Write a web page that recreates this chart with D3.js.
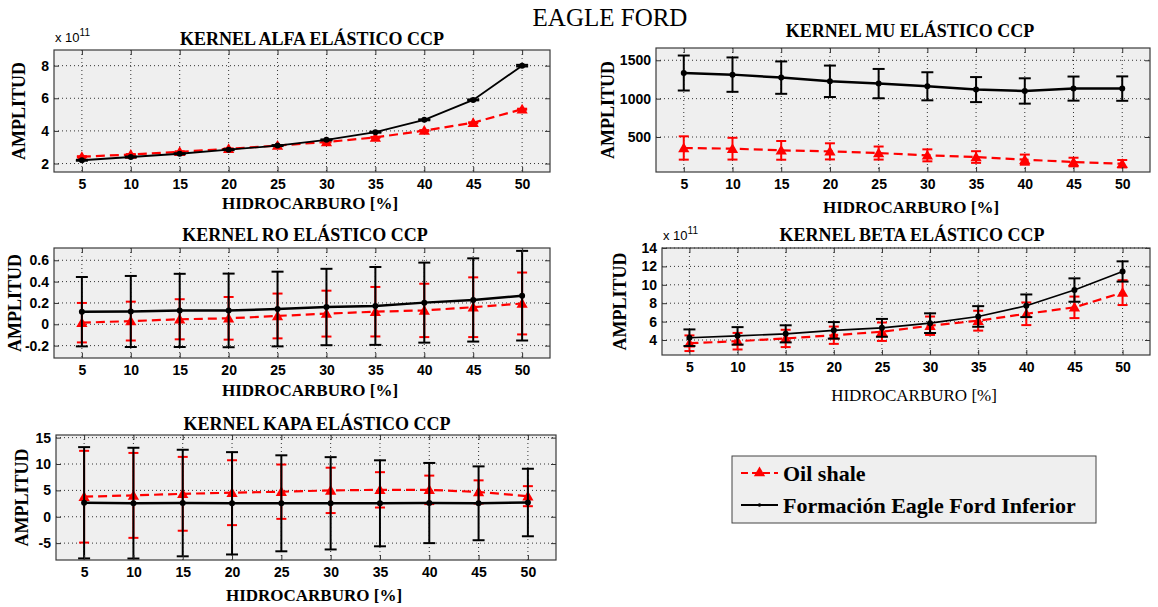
<!DOCTYPE html>
<html><head><meta charset="utf-8">
<script src="https://cdn.jsdelivr.net/npm/d3@7"></script>
<style>
html,body{margin:0;padding:0;background:#fff;}
svg{display:block;}
</style></head>
<body>
<svg id="c" width="1158" height="607"></svg>
<script>
// ---------------- data ----------------
const hidro = [5,10,15,20,25,30,35,40,45,50];
const seriesNames = ["Oil shale","Formación Eagle Ford Inferior"];

const alfaOil    = [2.42,2.55,2.72,2.9,3.1,3.32,3.6,4.02,4.5,5.33];
const alfaOilErr = [0.03,0.03,0.03,0.03,0.03,0.03,0.03,0.03,0.03,0.03];
const alfaEF     = [2.2,2.4,2.6,2.85,3.1,3.45,3.92,4.68,5.9,8.0];
const alfaEFErr  = [0.03,0.03,0.03,0.03,0.03,0.03,0.03,0.03,0.03,0.05];

const muOil    = [357,348,326,313,291,261,239,205,174,152];
const muOilErr = [152,142,122,105,85,78,76,66,56,48];
const muEF     = [1334,1313,1274,1226,1196,1161,1118,1100,1131,1131];
const muEFErr  = [228,224,211,205,191,183,163,165,157,159];

const roOil    = [0.015,0.03,0.047,0.056,0.078,0.1,0.118,0.13,0.16,0.195];
const roOilErr = [0.185,0.182,0.188,0.2,0.21,0.215,0.232,0.25,0.28,0.29];
const roEF     = [0.118,0.12,0.13,0.13,0.143,0.162,0.172,0.203,0.228,0.268];
const roEFErr  = [0.325,0.333,0.343,0.345,0.35,0.358,0.365,0.375,0.39,0.42];

const betaOil    = [3.65,3.87,4.17,4.52,4.9,5.55,6.1,6.85,7.55,9.15];
const betaOilErr = [0.85,0.9,0.94,0.94,1.0,1.0,1.08,1.23,1.17,1.35];
const betaEF     = [4.25,4.45,4.67,5.05,5.32,5.83,6.56,7.72,9.43,11.45];
const betaEFErr  = [0.9,0.95,0.93,0.9,0.97,1.07,1.12,1.23,1.27,1.1];

const kapaOil    = [3.8,4.05,4.35,4.56,4.75,5.0,5.1,5.1,4.7,3.9];
const kapaOilErr = [8.7,8.05,7.0,6.15,5.15,4.3,3.35,2.7,2.2,1.9];
const kapaEF     = [2.65,2.58,2.6,2.55,2.55,2.55,2.55,2.6,2.55,2.7];
const kapaEFErr  = [10.55,10.5,10.1,9.7,9.1,8.75,8.15,7.6,7.0,6.4];

const alfaTicks = [2,4,6,8];
const muTicks   = [500,1000,1500];
const roTicks   = [-0.2,0,0.2,0.4,0.6];
const betaTicks = [4,6,8,10,12,14];
const kapaTicks = [-5,0,5,10,15];

const titles = ["KERNEL ALFA ELÁSTICO CCP","KERNEL MU ELÁSTICO CCP","KERNEL RO ELÁSTICO CCP","KERNEL BETA ELÁSTICO CCP","KERNEL KAPA ELÁSTICO CCP"];
const xLabel = "HIDROCARBURO [%]";
const yLabel = "AMPLITUD";
const mainTitle = "EAGLE FORD";

// ---------------- layout ----------------
const SERIF = "'Liberation Serif','Times New Roman',serif";
const SANS  = "'Liberation Sans',Arial,Helvetica,sans-serif";
const svg = d3.select("#c");

const panels = [
  {title:titles[0], oil:alfaOil, oilErr:alfaOilErr, ef:alfaEF, efErr:alfaEFErr, yTicks:alfaTicks, yDom:[1.48,8.96],
   box:[54,550,50,172], titleX:312, titleY:45, xlY:209, ylX:19, exp:true, efW:1.8, xlBold:true},
  {title:titles[1], oil:muOil, oilErr:muOilErr, ef:muEF, efErr:muEFErr, yTicks:muTicks, yDom:[44,1660],
   box:[656,1150,48,172], titleX:910, titleY:37, xlY:213, ylX:608, exp:false, efW:2.5, xlBold:true},
  {title:titles[2], oil:roOil, oilErr:roOilErr, ef:roEF, efErr:roEFErr, yTicks:roTicks, yDom:[-0.316,0.715],
   box:[54,550,248,358], titleX:305, titleY:241, xlY:396, ylX:15, exp:false, efW:2.5, xlBold:true},
  {title:titles[3], oil:betaOil, oilErr:betaOilErr, ef:betaEF, efErr:betaEFErr, yTicks:betaTicks, yDom:[2.37,14],
   box:[662,1150,248,355], titleX:912, titleY:241, xlY:401, ylX:620, exp:true, efW:1.6, xlBold:false},
  {title:titles[4], oil:kapaOil, oilErr:kapaOilErr, ef:kapaEF, efErr:kapaEFErr, yTicks:kapaTicks, yDom:[-8.2,15.5],
   box:[56,556,435,560], titleX:317, titleY:430, xlY:601, ylX:22, exp:false, efW:2.5, xlBold:true}
];

const xDom = [2.15, 52.85];
const defs = svg.append("defs");
const tri = d3.symbol().type(d3.symbolTriangle).size(55);
const plain = d => String(d);

panels.forEach((p, i) => {
  const [L, R, T, B] = p.box;
  const x = d3.scaleLinear().domain(xDom).range([L, R]);
  const y = d3.scaleLinear().domain(p.yDom).range([B, T]);
  const g = svg.append("g");

  g.append("rect").attr("x", L).attr("y", T).attr("width", R - L).attr("height", B - T).attr("fill", "#efefef");

  // grid
  g.selectAll(".gx").data(hidro).join("line")
    .attr("x1", d => x(d)).attr("x2", d => x(d)).attr("y1", T).attr("y2", B)
    .attr("stroke", "#333").attr("stroke-width", 1).attr("stroke-dasharray", "1,3");
  g.selectAll(".gy").data(p.yTicks).join("line")
    .attr("x1", L).attr("x2", R).attr("y1", d => y(d)).attr("y2", d => y(d))
    .attr("stroke", "#333").attr("stroke-width", 1).attr("stroke-dasharray", "1,3");

  const cid = "clip" + i;
  defs.append("clipPath").attr("id", cid).append("rect")
    .attr("x", L).attr("y", T).attr("width", R - L).attr("height", B - T);
  const dg = g.append("g").attr("clip-path", `url(#${cid})`);

  const line = d3.line().x((d, j) => x(hidro[j])).y(d => y(d));

  function drawSeries(vals, errs, color, lw, capW, dashed, marker) {
    const s = dg.append("g");
    vals.forEach((v, j) => {
      const xx = x(hidro[j]), y1 = y(v + errs[j]), y2 = y(v - errs[j]);
      s.append("line").attr("x1", xx).attr("x2", xx).attr("y1", y1).attr("y2", y2)
        .attr("stroke", color).attr("stroke-width", 2);
      [y1, y2].forEach(yy => s.append("line").attr("x1", xx - capW / 2).attr("x2", xx + capW / 2)
        .attr("y1", yy).attr("y2", yy).attr("stroke", color).attr("stroke-width", 2));
    });
    s.append("path").datum(vals).attr("d", line).attr("fill", "none")
      .attr("stroke", color).attr("stroke-width", lw)
      .attr("stroke-dasharray", dashed ? "9,5" : null);
    if (marker === "tri") {
      s.selectAll(".m").data(vals).join("path")
        .attr("transform", (d, j) => `translate(${x(hidro[j])},${y(d) + 1})`)
        .attr("d", tri).attr("fill", color);
    } else {
      s.selectAll(".m").data(vals).join("circle")
        .attr("cx", (d, j) => x(hidro[j])).attr("cy", d => y(d)).attr("r", 3).attr("fill", color);
    }
  }
  drawSeries(p.oil, p.oilErr, "#ff0000", 2.2, 10, true, "tri");
  drawSeries(p.ef, p.efErr, "#000000", p.efW, 12, false, "dot");

  // axes (ticks inside)
  const ax = [
    {a: d3.axisBottom(x).tickValues(hidro).tickSize(-5).tickPadding(7).tickFormat(plain), t: `translate(0,${B})`},
    {a: d3.axisTop(x).tickValues(hidro).tickSize(-5).tickFormat(""), t: `translate(0,${T})`},
    {a: d3.axisLeft(y).tickValues(p.yTicks).tickSize(-5).tickPadding(5).tickFormat(plain), t: `translate(${L},0)`},
    {a: d3.axisRight(y).tickValues(p.yTicks).tickSize(-5).tickFormat(""), t: `translate(${R},0)`}
  ];
  ax.forEach(o => {
    const ag = g.append("g").attr("transform", o.t).call(o.a);
    ag.select(".domain").remove();
    ag.selectAll(".tick line").attr("stroke", "#333");
    ag.selectAll("text").attr("font-family", SANS).attr("font-weight", "bold")
      .attr("font-size", 14).attr("fill", "#000");
  });

  g.append("rect").attr("x", L).attr("y", T).attr("width", R - L).attr("height", B - T)
    .attr("fill", "none").attr("stroke", "#3a3a3a").attr("stroke-width", 1.2);

  // title
  g.append("text").attr("x", p.titleX).attr("y", p.titleY).attr("text-anchor", "middle")
    .attr("font-family", SERIF).attr("font-weight", "bold").attr("font-size", 18).text(p.title);
  // x label
  g.append("text").attr("x", (L + R) / 2 + 8).attr("y", p.xlY).attr("text-anchor", "middle")
    .attr("font-family", SERIF).attr("font-weight", p.xlBold ? "bold" : "normal").attr("font-size", 17).text(xLabel);
  // y label
  g.append("text").attr("transform", `translate(${p.ylX},${(T + B) / 2}) rotate(-90)`)
    .attr("text-anchor", "middle").attr("dominant-baseline", "central")
    .attr("font-family", SERIF).attr("font-weight", "bold").attr("font-size", 18).text(yLabel);
  // exponent
  if (p.exp) {
    const e = g.append("text").attr("x", L + 1).attr("y", T - 8)
      .attr("font-family", SANS).attr("font-size", 13);
    e.append("tspan").text("x 10");
    e.append("tspan").attr("dy", -6).attr("font-size", 10).text("11");
  }
});

// main title
svg.append("text").attr("x", 610).attr("y", 26).attr("text-anchor", "middle")
  .attr("font-family", SERIF).attr("font-size", 25).text(mainTitle);

// legend
const lg = svg.append("g");
lg.append("rect").attr("x", 732).attr("y", 456).attr("width", 364).attr("height", 67)
  .attr("fill", "#efefef").attr("stroke", "#444").attr("stroke-width", 1);
const rows = [
  {name: seriesNames[0], color: "#ff0000", dash: "7,4", y: 473, marker: "tri"},
  {name: seriesNames[1], color: "#000000", dash: null, y: 505, marker: "dot"}
];
rows.forEach(r => {
  lg.append("line").attr("x1", 741).attr("x2", 778).attr("y1", r.y).attr("y2", r.y)
    .attr("stroke", r.color).attr("stroke-width", 2).attr("stroke-dasharray", r.dash);
  if (r.marker === "tri") lg.append("path").attr("transform", `translate(759.5,${r.y})`).attr("d", tri).attr("fill", r.color);
  else lg.append("circle").attr("cx", 759.5).attr("cy", r.y).attr("r", 1.8).attr("fill", r.color);
  lg.append("text").attr("x", 783).attr("y", r.y).attr("dominant-baseline", "central")
    .attr("font-family", SERIF).attr("font-weight", "bold").attr("font-size", 22).text(r.name);
});
</script>
</body></html>
